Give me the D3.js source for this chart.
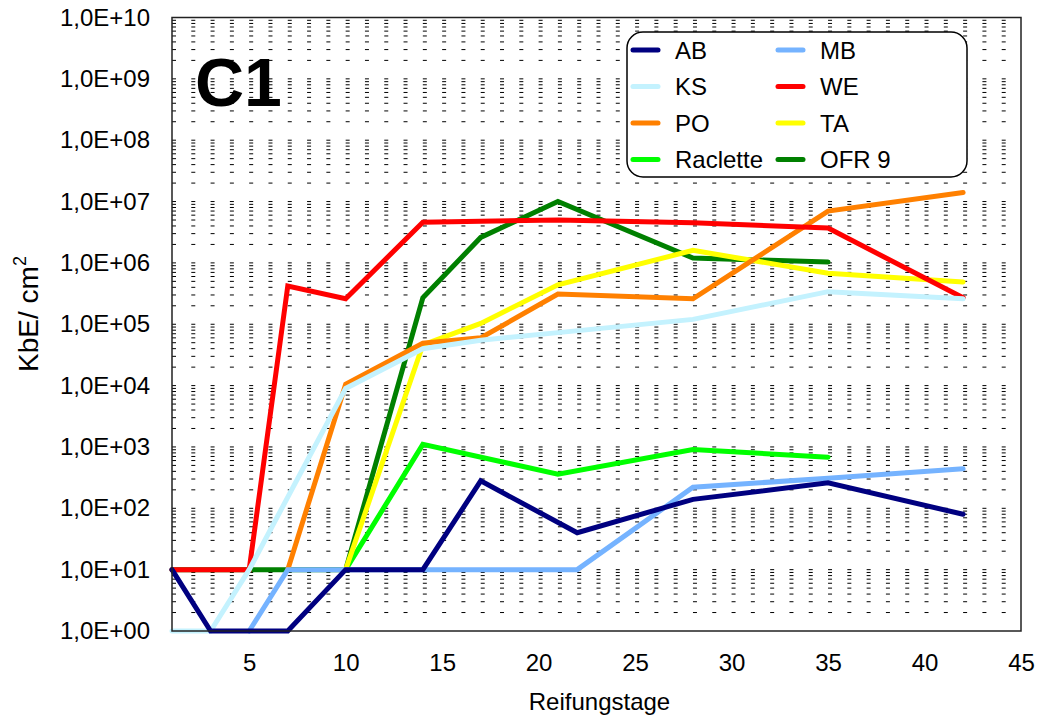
<!DOCTYPE html>
<html>
<head>
<meta charset="utf-8">
<script src="https://cdn.jsdelivr.net/npm/d3@7"></script>
<style>
body { margin: 0; background: #fff; }
text { font-family: Arial, "Liberation Sans", sans-serif; }
</style>
</head>
<body>
<script>
// Series (legend order)
var names  = ["AB", "MB", "KS", "WE", "PO", "TA", "Raclette", "OFR 9"];
var colors = ["#000080", "#75B3FF", "#C4F2FE", "#FF0000", "#FF8000", "#FFFF00", "#00FF00", "#008000"];

// Reifungstage / KbE per cm2
var abDays = [1, 3, 7, 10, 14, 17, 22, 28, 35, 42];
var abVals = [10, 1, 1, 10, 10, 280, 40, 140, 260, 80];
var mbDays = [5, 7, 10, 14, 17, 22, 28, 35, 42];
var mbVals = [1, 10, 10, 10, 10, 10, 220, 310, 440];
var ksDays = [1, 3, 5, 10, 14, 17, 21, 28, 35, 42];
var ksVals = [1, 1, 10, 9000, 40000, 55000, 73000, 120000, 340000, 260000];
var weDays = [1, 3, 5, 7, 10, 14, 21, 28, 35, 42];
var weVals = [10, 10, 10, 4.2e5, 2.6e5, 4.6e6, 5.0e6, 4.5e6, 3.7e6, 2.7e5];
var poDays = [7, 10, 14, 17, 21, 28, 35, 42];
var poVals = [10, 1.05e4, 4.9e4, 6.0e4, 3.1e5, 2.6e5, 7.0e6, 1.4e7];
var taDays = [10, 14, 17, 21, 28, 35, 42];
var taVals = [10, 4.6e4, 1.03e5, 4.4e5, 1.6e6, 6.8e5, 4.9e5];
var raDays = [10, 14, 21, 28, 35];
var raVals = [10, 1100, 360, 910, 680];
var ofDays = [1, 3, 5, 7, 10, 14, 17, 21, 28, 35];
var ofVals = [10, 10, 10, 10, 10, 2.7e5, 2.6e6, 1.0e7, 1.2e6, 1.03e6];

var xTicks = [5, 10, 15, 20, 25, 30, 35, 40, 45];
var yTicks = [1, 1e1, 1e2, 1e3, 1e4, 1e5, 1e6, 1e7, 1e8, 1e9, 1e10];

var allDays = [abDays, mbDays, ksDays, weDays, poDays, taDays, raDays, ofDays];
var allVals = [abVals, mbVals, ksVals, weVals, poVals, taVals, raVals, ofVals];
var series = names.map(function(n, i) {
    return { name: n, color: colors[i],
             pts: allDays[i].map(function(d, j) { return [d, allVals[i][j]]; }) };
});

var W = 1039, H = 715;
var pLeft = 172, pRight = 1021, pTop = 17.5, pBottom = 631;

var svg = d3.select("body").append("svg")
    .attr("width", W).attr("height", H);

var x = d3.scaleLinear().domain([1, 45]).range([pLeft, pRight]);
var y = d3.scaleLog().domain([1, 1e10]).range([pBottom, pTop]);

// dashed gridlines at every log step
var step = x(2) - x(1);
var gridVals = [];
for (var dec = 0; dec < 10; dec++)
    for (var k = 1; k <= 9; k++) gridVals.push(k * Math.pow(10, dec));
gridVals = gridVals.filter(function(v) { return v > 1; });

svg.append("g").selectAll("line").data(gridVals).enter().append("line")
    .attr("x1", pLeft).attr("x2", pRight)
    .attr("y1", function(d) { return y(d); })
    .attr("y2", function(d) { return y(d); })
    .attr("stroke", "#000")
    .attr("stroke-width", 1)
    .attr("stroke-dasharray", "4," + (step - 4));

// series, AB drawn last so it sits on top
var line = d3.line()
    .x(function(d) { return x(d[0]); })
    .y(function(d) { return y(d[1]); });

svg.append("g").selectAll("path").data(series.slice().reverse()).enter().append("path")
    .attr("d", function(d) { return line(d.pts); })
    .attr("fill", "none")
    .attr("stroke", function(d) { return d.color; })
    .attr("stroke-width", 5)
    .attr("stroke-linecap", "round")
    .attr("stroke-linejoin", "miter");

// plot frame
svg.append("rect")
    .attr("x", pLeft).attr("y", pTop)
    .attr("width", pRight - pLeft).attr("height", pBottom - pTop)
    .attr("fill", "none").attr("stroke", "#222").attr("stroke-width", 1.5);

// axes
var xAxis = svg.append("g").attr("transform", "translate(0," + pBottom + ")")
    .call(d3.axisBottom(x).tickValues(xTicks).tickSize(0).tickPadding(23).tickFormat(d3.format("d")));
var yAxis = svg.append("g").attr("transform", "translate(" + pLeft + ",0)")
    .call(d3.axisLeft(y).tickValues(yTicks).tickSize(0).tickPadding(22)
        .tickFormat(function(d) {
            var e = Math.round(Math.log10(d));
            return "1,0E+" + (e < 10 ? "0" + e : e);
        }));
[xAxis, yAxis].forEach(function(a) {
    a.select(".domain").remove();
    a.selectAll("text").attr("font-size", 24).attr("fill", "#000")
        .attr("font-family", "Arial, 'Liberation Sans', sans-serif");
});

// titles
svg.append("text")
    .attr("x", (pLeft + pRight) / 2 + 3).attr("y", 710)
    .attr("text-anchor", "middle").attr("font-size", 24)
    .text("Reifungstage");

var yt = svg.append("text")
    .attr("transform", "translate(38,314) rotate(-90)")
    .attr("text-anchor", "middle").attr("font-size", 28);
yt.append("tspan").text("KbE/ cm");
yt.append("tspan").attr("dy", -12).attr("font-size", 18).text("2");

svg.append("text")
    .attr("x", 195).attr("y", 106)
    .attr("font-size", 68).attr("font-weight", "bold")
    .text("C1");

// legend
var lg = svg.append("g");
lg.append("rect")
    .attr("x", 627).attr("y", 32).attr("width", 340).attr("height", 145)
    .attr("rx", 16).attr("ry", 16)
    .attr("fill", "#fff").attr("stroke", "#000").attr("stroke-width", 1.5);

var item = lg.selectAll("g.item").data(series).enter().append("g")
    .attr("class", "item")
    .attr("transform", function(d, i) {
        return "translate(" + (i % 2 ? 778 : 633) + "," + (50 + Math.floor(i / 2) * 36.5) + ")";
    });
item.append("line")
    .attr("x1", 0).attr("x2", 25)
    .attr("stroke", function(d) { return d.color; })
    .attr("stroke-width", 5).attr("stroke-linecap", "round");
item.append("text")
    .attr("x", 42).attr("dy", "0.36em")
    .attr("font-size", 24)
    .text(function(d) { return d.name; });
</script>
</body>
</html>
